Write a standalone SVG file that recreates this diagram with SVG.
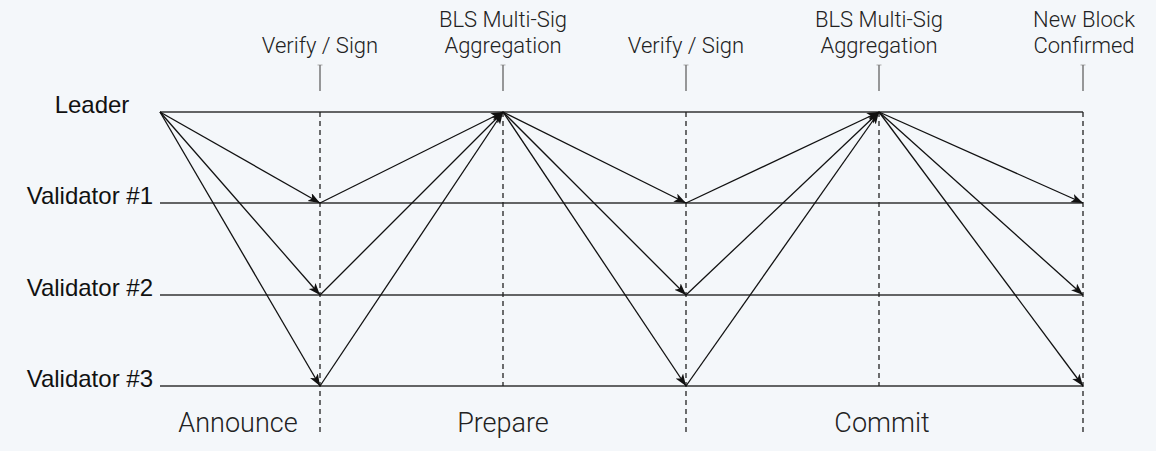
<svg xmlns="http://www.w3.org/2000/svg" width="1156" height="451" viewBox="0 0 1156 451">
  <defs>
    <marker id="arrow" markerUnits="userSpaceOnUse" markerWidth="14" markerHeight="10" refX="12" refY="4.5" orient="auto">
      <path d="M0,0 L12,4.5 L0,9 L3,4.5 z" fill="#111"/>
    </marker>
    <style>
      .bg { fill: #f4f7fa; }
      .lane { stroke: #333; stroke-width: 1.3; fill: none; }
      .dash { stroke: #222; stroke-width: 1.3; stroke-dasharray: 5 4; fill: none; }
      .tick { stroke: #777; stroke-width: 1.5; fill: none; }
      .cap { stroke: #aaa; stroke-width: 1; fill: none; }
      .msg { stroke: #111; stroke-width: 1.3; fill: none; marker-end: url(#arrow); }
      .role { font-family: "Liberation Sans", Arial, sans-serif; font-size: 24px; fill: #111; }
      .step { font-family: Roboto, "Liberation Sans", Arial, sans-serif; font-weight: 300; font-size: 22px; fill: #222; text-anchor: middle; }
      .phase { font-family: Roboto, "Liberation Sans", Arial, sans-serif; font-weight: 300; font-size: 27px; fill: #222; text-anchor: middle; }
    </style>
  </defs>
  <rect class="bg" x="0" y="0" width="1156" height="451"/>

  <g id="lanes">
    <g id="leader">
      <text class="role" x="92" y="113" text-anchor="middle">Leader</text>
      <line class="lane" x1="160" y1="112" x2="1083" y2="112"/>
    </g>
    <g id="validator1">
      <text class="role" x="153" y="204" text-anchor="end">Validator #1</text>
      <line class="lane" x1="160" y1="203" x2="1083" y2="203"/>
    </g>
    <g id="validator2">
      <text class="role" x="153" y="296" text-anchor="end">Validator #2</text>
      <line class="lane" x1="160" y1="295" x2="1083" y2="295"/>
    </g>
    <g id="validator3">
      <text class="role" x="153" y="387" text-anchor="end">Validator #3</text>
      <line class="lane" x1="160" y1="386" x2="1083" y2="386"/>
    </g>
  </g>

  <g id="steps">
    <g id="step-verify1">
      <text class="step" x="320" y="53">Verify / Sign</text>
      <line class="cap" x1="317.5" y1="65" x2="322.5" y2="65"/>
      <line class="tick" x1="320" y1="65" x2="320" y2="91"/>
      <line class="dash" x1="320" y1="112" x2="320" y2="432"/>
    </g>
    <g id="step-agg1">
      <text class="step" x="503" y="27">BLS Multi-Sig</text>
      <text class="step" x="503" y="53">Aggregation</text>
      <line class="cap" x1="500.5" y1="65" x2="505.5" y2="65"/>
      <line class="tick" x1="503" y1="65" x2="503" y2="91"/>
      <line class="dash" x1="503" y1="112" x2="503" y2="386"/>
    </g>
    <g id="step-verify2">
      <text class="step" x="686" y="53">Verify / Sign</text>
      <line class="cap" x1="683.5" y1="65" x2="688.5" y2="65"/>
      <line class="tick" x1="686" y1="65" x2="686" y2="91"/>
      <line class="dash" x1="686" y1="112" x2="686" y2="432"/>
    </g>
    <g id="step-agg2">
      <text class="step" x="879" y="27">BLS Multi-Sig</text>
      <text class="step" x="879" y="53">Aggregation</text>
      <line class="cap" x1="876.5" y1="65" x2="881.5" y2="65"/>
      <line class="tick" x1="879" y1="65" x2="879" y2="91"/>
      <line class="dash" x1="879" y1="112" x2="879" y2="386"/>
    </g>
    <g id="step-confirm">
      <text class="step" x="1084" y="27">New Block</text>
      <text class="step" x="1084" y="53">Confirmed</text>
      <line class="cap" x1="1080.5" y1="65" x2="1085.5" y2="65"/>
      <line class="tick" x1="1083" y1="65" x2="1083" y2="91"/>
      <line class="dash" x1="1083" y1="112" x2="1083" y2="432"/>
    </g>
  </g>

  <g id="phases">
    <text class="phase" x="238" y="432">Announce</text>
    <text class="phase" x="503" y="432">Prepare</text>
    <text class="phase" x="882" y="432">Commit</text>
  </g>

  <g id="connectors">
    <line class="msg" x1="160" y1="112" x2="320" y2="203"/>
    <line class="msg" x1="160" y1="112" x2="320" y2="295"/>
    <line class="msg" x1="160" y1="112" x2="320" y2="386"/>

    <line class="msg" x1="320" y1="203" x2="503" y2="112"/>
    <line class="msg" x1="320" y1="295" x2="503" y2="112"/>
    <line class="msg" x1="320" y1="386" x2="503" y2="112"/>

    <line class="msg" x1="503" y1="112" x2="686" y2="203"/>
    <line class="msg" x1="503" y1="112" x2="686" y2="295"/>
    <line class="msg" x1="503" y1="112" x2="686" y2="386"/>

    <line class="msg" x1="686" y1="203" x2="879" y2="112"/>
    <line class="msg" x1="686" y1="295" x2="879" y2="112"/>
    <line class="msg" x1="686" y1="386" x2="879" y2="112"/>

    <line class="msg" x1="879" y1="112" x2="1083" y2="203"/>
    <line class="msg" x1="879" y1="112" x2="1083" y2="295"/>
    <line class="msg" x1="879" y1="112" x2="1083" y2="386"/>
  </g>
</svg>
